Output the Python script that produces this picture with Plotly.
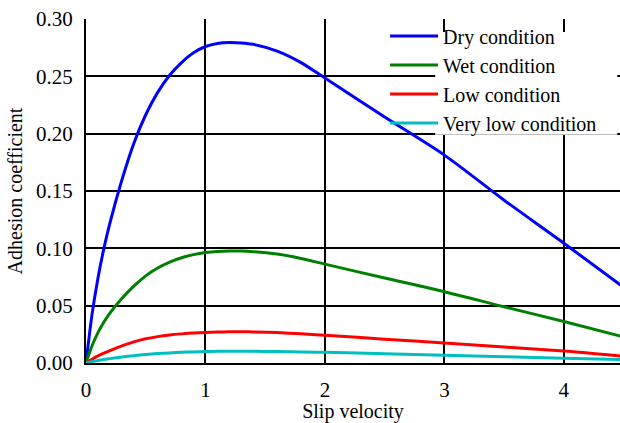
import plotly.graph_objects as go

slip = [0, 0.05, 0.1, 0.15, 0.2, 0.3, 0.4, 0.5, 0.6, 0.7, 0.8, 0.9, 1.0, 1.1,
        1.2, 1.3, 1.4, 1.6, 1.8, 2.0, 2.5, 3.0, 3.5, 4.0, 4.5]

dry = [0, 0.042, 0.074, 0.100, 0.122, 0.1595, 0.1915, 0.2165, 0.2360, 0.2510,
       0.2620, 0.2705, 0.2760, 0.2787, 0.2795, 0.2791, 0.2779, 0.2720, 0.2620,
       0.2485, 0.2145, 0.1813, 0.1420, 0.1045, 0.0660]
wet = [0, 0.0148, 0.0265, 0.0357, 0.0435, 0.0562, 0.0670, 0.0760, 0.0828,
       0.0880, 0.0918, 0.0945, 0.0963, 0.0973, 0.0977, 0.0976, 0.0971, 0.0950,
       0.0912, 0.0862, 0.0741, 0.0622, 0.0490, 0.0362, 0.0228]
low = [0, 0.0033, 0.0062, 0.0086, 0.0108, 0.0150, 0.0184, 0.0211, 0.0230,
       0.0244, 0.0254, 0.0262, 0.0267, 0.0270, 0.0272, 0.0272, 0.0271, 0.0265,
       0.0255, 0.0242, 0.0208, 0.0174, 0.0139, 0.0105, 0.0059]
very_low = [0, 0.0011, 0.0021, 0.0030, 0.0038, 0.0052, 0.0064, 0.0074, 0.0082,
            0.0088, 0.0093, 0.0097, 0.0100, 0.0102, 0.0103, 0.0103, 0.0102,
            0.0100, 0.0097, 0.0093, 0.0081, 0.0068, 0.0055, 0.0042, 0.0030]

series_names = ["Dry condition", "Wet condition", "Low condition", "Very low condition"]
series_values = [dry, wet, low, very_low]
series_colors = ["#0000FF", "#008000", "#FF0000", "#00BFBF"]

y_ticks = [0.00, 0.05, 0.10, 0.15, 0.20, 0.25, 0.30]
x_ticks = [0, 1, 2, 3, 4]

FONT = "Liberation Serif"
font20 = dict(family=FONT, size=20, color="black")
font21 = dict(family=FONT, size=21, color="black")

fig = go.Figure()
for name, vals, col in zip(series_names, series_values, series_colors):
    fig.add_trace(go.Scatter(x=slip, y=vals, mode="lines", name=name,
                             line=dict(color=col, width=3, shape="spline", smoothing=0.8)))

# white background behind legend text (hides gridlines only)
fig.add_shape(type="rect", xref="x", yref="y", x0=2.923, x1=4.447, y0=0.199, y1=0.2887,
              fillcolor="white", line=dict(width=0), layer="between")

fig.update_layout(
    width=620, height=423,
    margin=dict(l=86, r=0, t=19, b=60),
    paper_bgcolor="white", plot_bgcolor="white",
    font=font20,
    showlegend=True,
    legend=dict(x=0.56, y=1.007, xanchor="left", yanchor="top",
                bgcolor="rgba(0,0,0,0)", borderwidth=0,
                font=font20, itemwidth=48, tracegroupgap=0),
)
fig.update_xaxes(range=[0, 4.47], tickvals=x_ticks, ticktext=[str(v) for v in x_ticks],
                 tickfont=font21,
                 showgrid=True, gridcolor="black", gridwidth=2, zeroline=False,
                 showline=True, linecolor="black", linewidth=2, ticks="",
                 ticklabelstandoff=7,
                 title=dict(text="Slip velocity", font=font20, standoff=8))
fig.update_yaxes(range=[0, 0.30], tickvals=y_ticks, ticktext=[f"{v:.2f}" for v in y_ticks],
                 tickfont=font21,
                 showgrid=True, gridcolor="black", gridwidth=2, zeroline=False,
                 showline=True, linecolor="black", linewidth=2, ticks="",
                 ticklabelstandoff=7,
                 title=dict(text="Adhesion coefficient", font=font20, standoff=8))

fig.write_html("out.html")
